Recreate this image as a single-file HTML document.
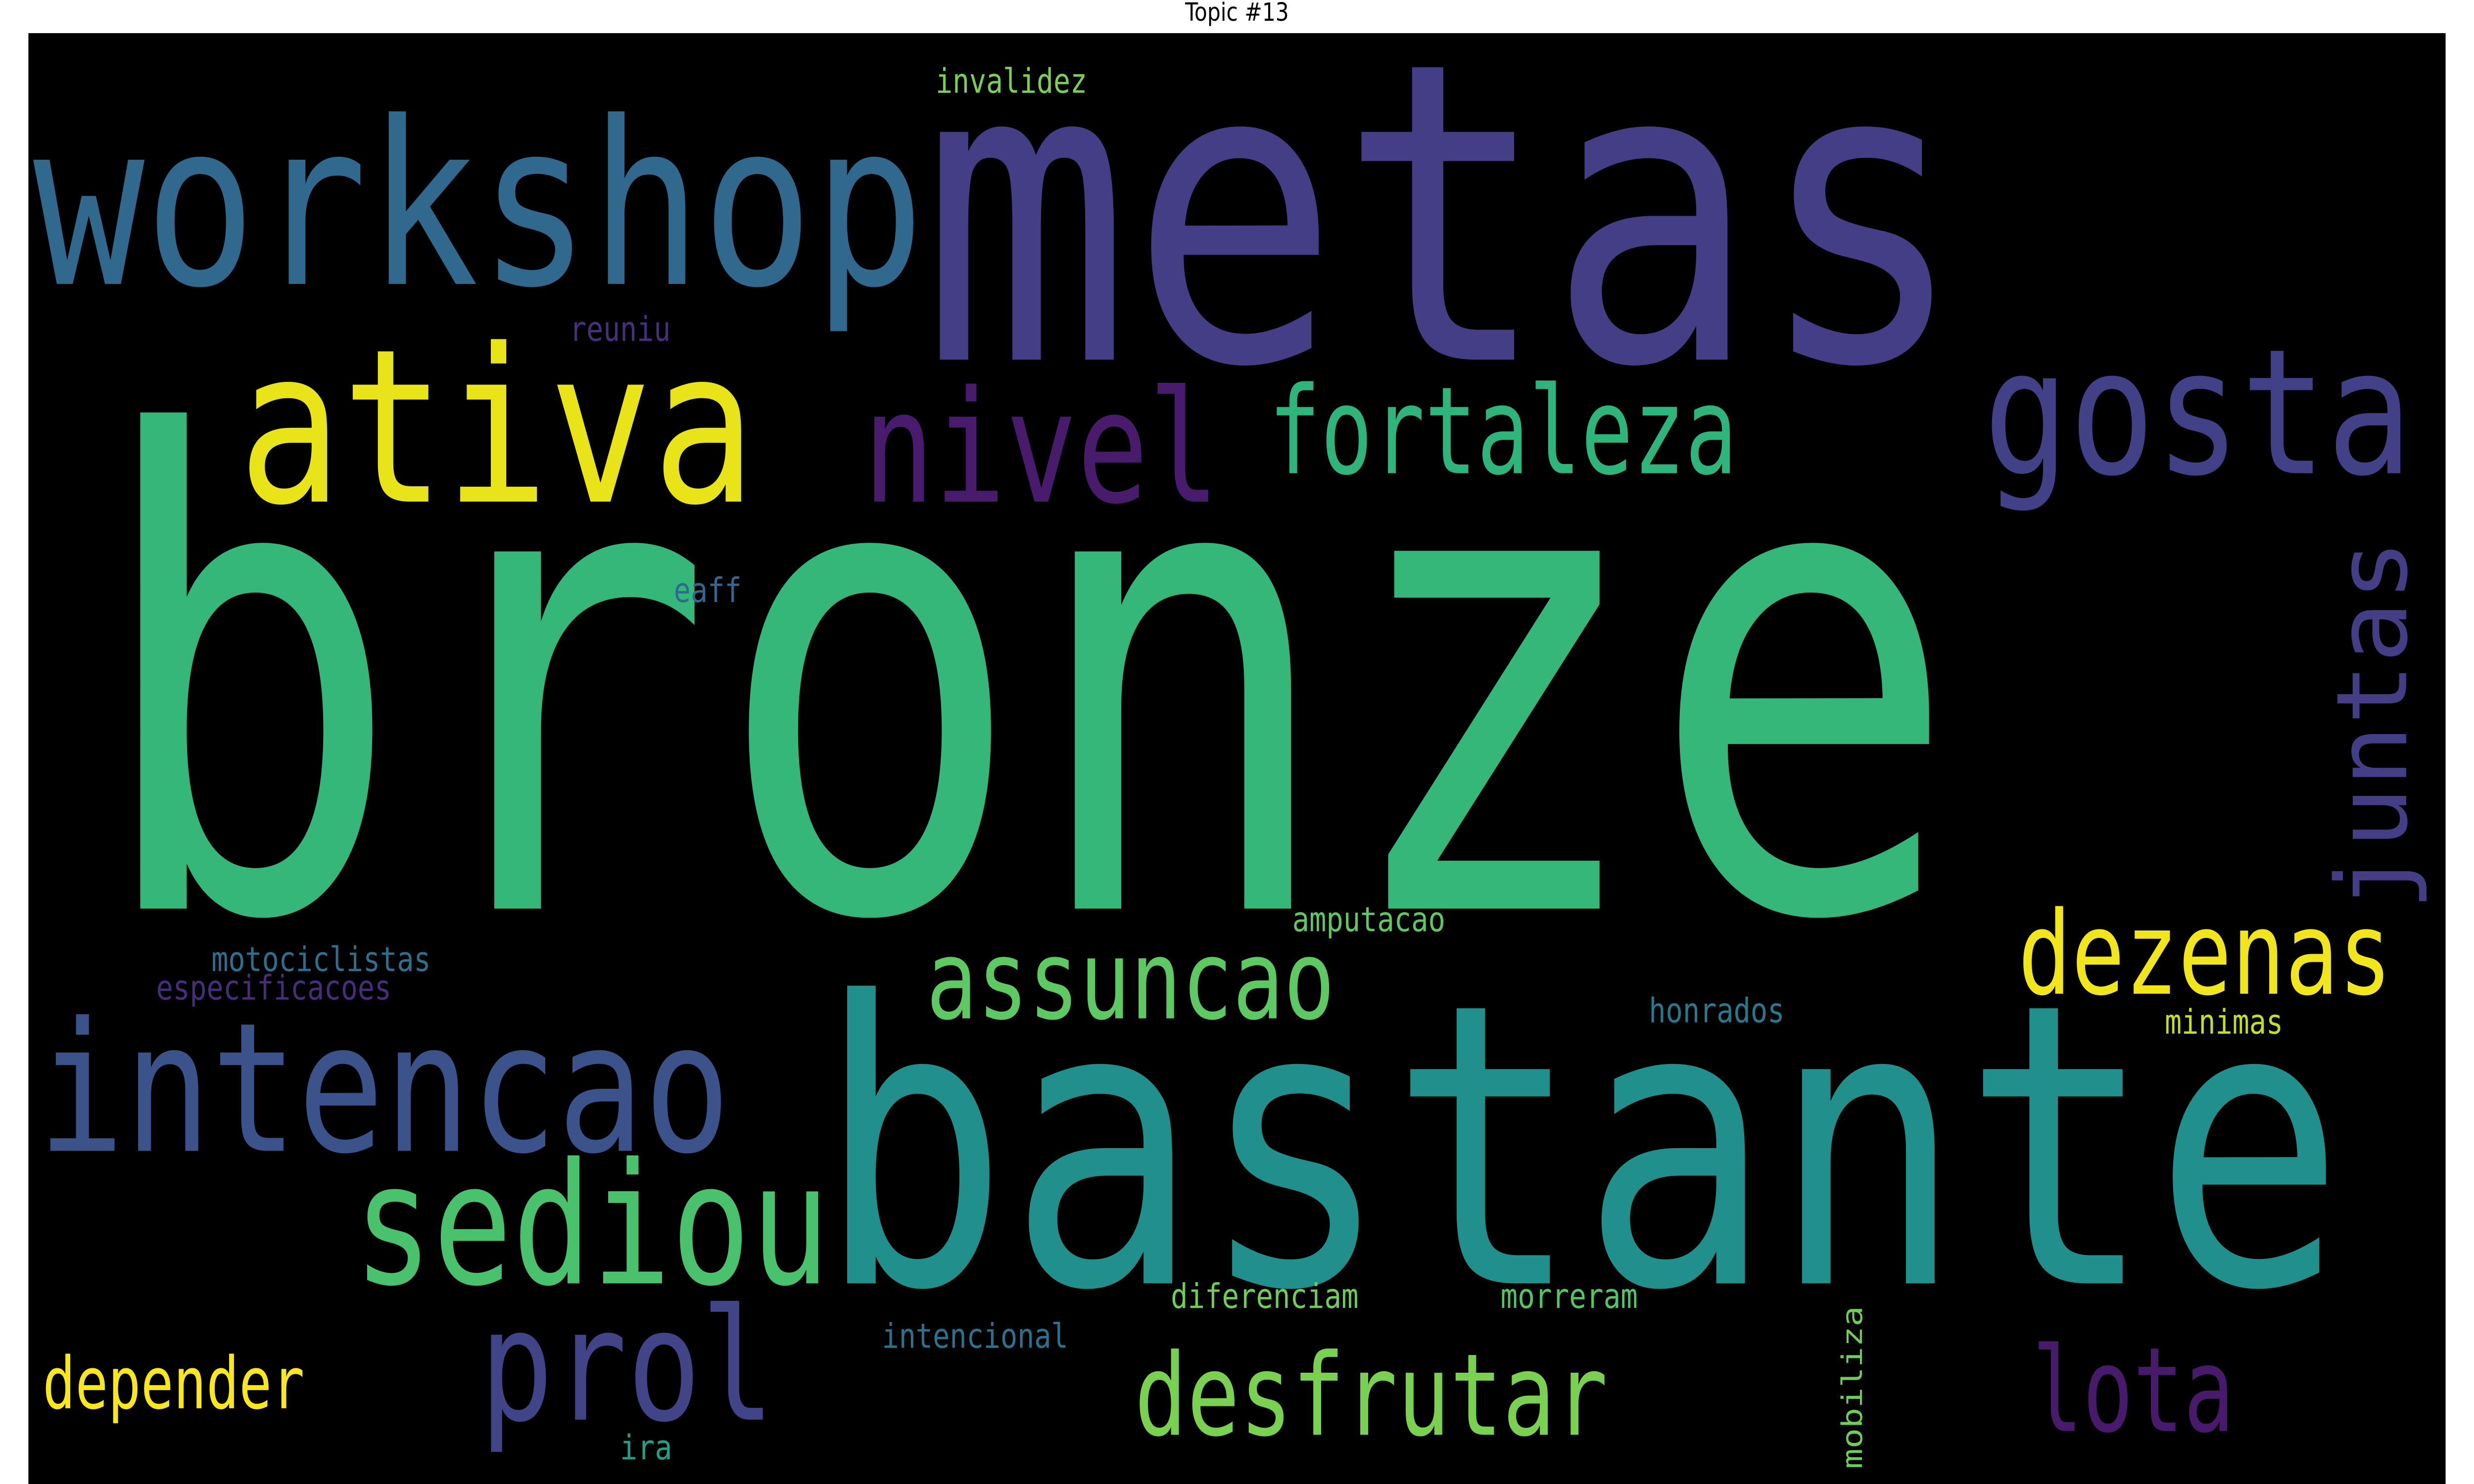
<!DOCTYPE html>
<html><head><meta charset="utf-8"><style>
html,body{margin:0;padding:0;background:#fff;width:100%;height:100%;overflow:hidden;}
svg{display:block;width:100vw;height:100vh;}
text{font-family:"DejaVu Sans Mono","Liberation Mono",monospace;}
</style></head><body>
<svg viewBox="0 0 1568 784" preserveAspectRatio="none" xmlns="http://www.w3.org/2000/svg">
<rect x="0" y="0" width="1568" height="784" fill="#ffffff"/>
<text x="784" y="11" font-size="13.3" text-anchor="middle" fill="#000" style="font-family:'DejaVu Sans','Liberation Sans',sans-serif">Topic #13</text>
<rect x="18" y="17.5" width="1532" height="767" fill="#000"/>
<g>
<text x="58" y="480" font-size="345" fill="#35b779" textLength="1184" lengthAdjust="spacingAndGlyphs">bronze</text>
<text x="584" y="190" font-size="220" fill="#433e85" textLength="662" lengthAdjust="spacingAndGlyphs">metas</text>
<text x="21" y="150" font-size="120" fill="#31688e" textLength="565" lengthAdjust="spacingAndGlyphs">workshop</text>
<text x="151" y="265" font-size="113" fill="#e8e419" textLength="328" lengthAdjust="spacingAndGlyphs">ativa</text>
<text x="547" y="265" font-size="82" fill="#481b6d" textLength="226" lengthAdjust="spacingAndGlyphs">nivel</text>
<text x="804" y="250" font-size="64" fill="#2fb47c" textLength="297" lengthAdjust="spacingAndGlyphs">fortaleza</text>
<text x="1257" y="250" font-size="92" fill="#424086" textLength="272" lengthAdjust="spacingAndGlyphs">gosta</text>
<text transform="translate(1525,481) rotate(-90)" x="0" y="0" font-size="62" fill="#433e85" textLength="196" lengthAdjust="spacingAndGlyphs">juntas</text>
<text x="1279" y="525" font-size="61" fill="#f1e51d" textLength="237" lengthAdjust="spacingAndGlyphs">dezenas</text>
<text x="587" y="538" font-size="58" fill="#5ec962" textLength="259" lengthAdjust="spacingAndGlyphs">assuncao</text>
<text x="24" y="608" font-size="95" fill="#3b528b" textLength="439" lengthAdjust="spacingAndGlyphs">intencao</text>
<text x="518" y="678" font-size="207" fill="#21908d" textLength="968" lengthAdjust="spacingAndGlyphs">bastante</text>
<text x="224" y="678" font-size="89" fill="#4ac16d" textLength="302" lengthAdjust="spacingAndGlyphs">sediou</text>
<text x="304" y="750" font-size="82" fill="#414487" textLength="187" lengthAdjust="spacingAndGlyphs">prol</text>
<text x="27" y="744" font-size="38" fill="#f8e621" textLength="166" lengthAdjust="spacingAndGlyphs">depender</text>
<text x="719" y="758" font-size="60" fill="#7ad151" textLength="300" lengthAdjust="spacingAndGlyphs">desfrutar</text>
<text x="1288" y="756" font-size="62" fill="#481a6c" textLength="128" lengthAdjust="spacingAndGlyphs">lota</text>
<text x="593" y="49" font-size="18" fill="#7ad151" textLength="96" lengthAdjust="spacingAndGlyphs">invalidez</text>
<text x="361" y="180" font-size="18" fill="#46307e" textLength="64" lengthAdjust="spacingAndGlyphs">reuniu</text>
<text x="427" y="318" font-size="18" fill="#31688e" textLength="43" lengthAdjust="spacingAndGlyphs">eaff</text>
<text x="134" y="513" font-size="18" fill="#2e6e8e" textLength="139" lengthAdjust="spacingAndGlyphs">motociclistas</text>
<text x="99" y="528" font-size="18" fill="#472d7b" textLength="149" lengthAdjust="spacingAndGlyphs">especificacoes</text>
<text x="819" y="492" font-size="18" fill="#5ec962" textLength="97" lengthAdjust="spacingAndGlyphs">amputacao</text>
<text x="1045" y="540" font-size="18" fill="#2a788e" textLength="86" lengthAdjust="spacingAndGlyphs">honrados</text>
<text x="1372" y="546" font-size="18" fill="#c2df23" textLength="75" lengthAdjust="spacingAndGlyphs">minimas</text>
<text x="742" y="691" font-size="18" fill="#6ece58" textLength="119" lengthAdjust="spacingAndGlyphs">diferenciam</text>
<text x="951" y="691" font-size="18" fill="#52c569" textLength="87" lengthAdjust="spacingAndGlyphs">morreram</text>
<text x="559" y="712" font-size="18" fill="#2c728e" textLength="118" lengthAdjust="spacingAndGlyphs">intencional</text>
<text x="393" y="771" font-size="18" fill="#1fa088" textLength="33" lengthAdjust="spacingAndGlyphs">ira</text>
<text transform="translate(1180,776) rotate(-90)" x="0" y="0" font-size="18" fill="#6ece58" textLength="86" lengthAdjust="spacingAndGlyphs">mobiliza</text>
</g>
</svg>
</body></html>
